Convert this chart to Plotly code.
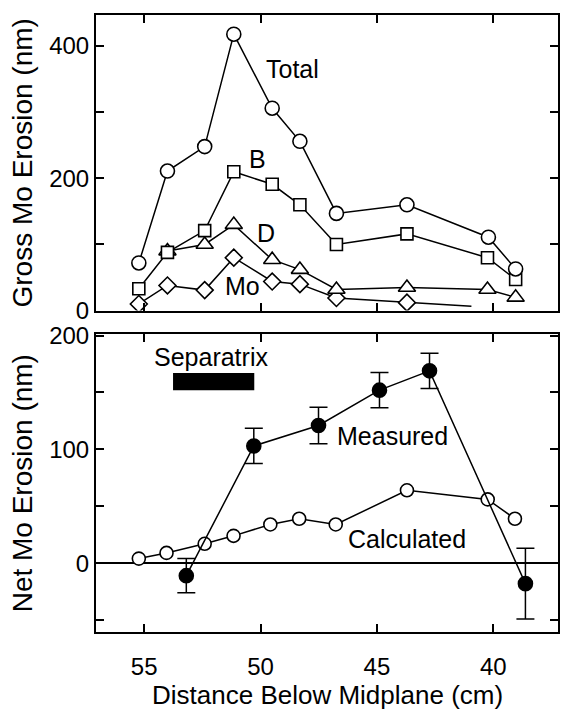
import plotly.graph_objects as go
from plotly.subplots import make_subplots

# ---------------- data ----------------
# Top panel: gross Mo erosion (nm) vs distance below midplane (cm)
total_x = [55.23, 54.0, 52.4, 51.15, 49.5, 48.31, 46.74, 43.71, 40.21, 39.04]
total_y = [72, 211, 248, 418, 306, 256, 147, 160, 111, 63]

b_x = [55.23, 54.0, 52.4, 51.15, 49.5, 48.31, 46.74, 43.71, 40.25, 39.04]
b_y = [33, 88, 121, 210, 191, 160, 100, 116, 80, 47]

d_x = [54.0, 52.4, 51.15, 49.5, 48.31, 46.74, 43.71, 40.25, 39.04]
d_y = [90, 100, 130, 77, 62, 32, 35, 32, 20]

mo_x = [55.23, 54.0, 52.4, 51.15, 49.5, 48.31, 46.74, 43.71, 40.94]
mo_y = [10, 38, 31, 80, 44, 40, 19, 12, 6.5]
mo_marker_shown = [1, 1, 1, 1, 1, 1, 1, 1, 0]

# Bottom panel: net Mo erosion (nm)
meas_x = [53.19, 50.29, 47.51, 44.89, 42.74, 38.62]
meas_y = [-11, 103, 121, 152, 169, -18]
meas_err = [15, 15.5, 16, 15.5, 15.5, 31]

calc_x = [55.23, 54.04, 52.40, 51.16, 49.58, 48.34, 46.77, 43.71, 40.24, 39.07]
calc_y = [4, 9, 17, 24, 34, 39, 34, 64, 56, 39]

separatrix_x = [53.76, 50.27]
separatrix_y = [152, 167]

x_tickvals = [55, 50, 45, 40]
x_ticktext = ["55", "50", "45", "40"]
top_tickvals = [0, 100, 200, 300, 400]
top_ticktext = ["0", "", "200", "", "400"]
bot_tickvals = [-50, 0, 50, 100, 150, 200]
bot_ticktext = ["", "0", "", "100", "", "200"]

# ---------------- figure ----------------
FONT = "Liberation Sans, Arial, Helvetica, sans-serif"
W, H = 563, 711
ML, MR, MT, MB = 96, 3, 10, 79
plot_h = H - MT - MB
top_h = 298
bot_h = 300

fig = make_subplots(rows=2, cols=1, shared_xaxes=False)

line = dict(color="black", width=1.5)

def mk(symbol, size, filled=False):
    return dict(symbol=symbol, size=size, opacity=1,
                color="black" if filled else "white",
                line=dict(color="black", width=1.6))

fig.add_trace(go.Scatter(x=mo_x, y=mo_y, mode="lines+markers", line=line,
                         marker=dict(symbol="diamond", size=[13 * s for s in mo_marker_shown],
                                     opacity=1, sizemode="diameter",
                                     color="white", line=dict(color="black", width=1.6))),
              row=1, col=1)
fig.add_trace(go.Scatter(x=d_x, y=d_y, mode="lines+markers", line=line,
                         marker=mk("triangle-up", 15)), row=1, col=1)
fig.add_trace(go.Scatter(x=b_x, y=b_y, mode="lines+markers", line=line,
                         marker=mk("square", 12)), row=1, col=1)
fig.add_trace(go.Scatter(x=total_x, y=total_y, mode="lines+markers", line=line,
                         marker=mk("circle", 14)), row=1, col=1)

fig.add_trace(go.Scatter(x=calc_x, y=calc_y, mode="lines+markers", line=line,
                         marker=mk("circle", 13)), row=2, col=1)
fig.add_trace(go.Scatter(x=meas_x, y=meas_y, mode="lines+markers", line=line,
                         marker=mk("circle", 14, filled=True),
                         error_y=dict(type="data", array=meas_err, visible=True,
                                      color="black", thickness=1.5, width=9)),
              row=2, col=1)

fig.add_shape(type="rect", xref="x2", yref="y2",
              x0=separatrix_x[0], x1=separatrix_x[1],
              y0=separatrix_y[0], y1=separatrix_y[1],
              fillcolor="black", line=dict(width=0))

ann_font = dict(family=FONT, size=25, color="black")
anns = [
    ("x", "y", 48.64, 365, "Total"),
    ("x", "y", 50.12, 230, "B"),
    ("x", "y", 49.76, 117, "D"),
    ("x", "y", 50.77, 37, "Mo"),
    ("x2", "y2", 52.15, 181, "Separatrix"),
    ("x2", "y2", 44.35, 112, "Measured"),
    ("x2", "y2", 43.71, 21, "Calculated"),
]
for xr, yr, ax_, ay_, txt in anns:
    fig.add_annotation(xref=xr, yref=yr, x=ax_, y=ay_, text=txt, showarrow=False,
                       font=ann_font, xanchor="center", yanchor="middle")

# x-axis title as a paper-anchored annotation below the tick labels
fig.add_annotation(xref="paper", yref="paper", x=0.5, y=-64 / plot_h,
                   text="Distance Below Midplane (cm)", showarrow=False,
                   font=dict(family=FONT, size=26, color="black"),
                   xanchor="center", yanchor="middle")

axis_common = dict(showline=True, linecolor="black", linewidth=2, mirror="ticks",
                   ticks="inside", ticklen=8, tickwidth=1.5, tickcolor="black",
                   showgrid=False, zeroline=False,
                   tickfont=dict(family=FONT, size=24, color="black"))

xrange = [57.07, 37.22]
fig.update_xaxes(range=xrange, tickvals=x_tickvals, ticktext=x_ticktext, **axis_common)
fig.update_xaxes(showticklabels=False, row=1, col=1)
fig.update_xaxes(ticklabelstandoff=12, row=2, col=1)

fig.update_yaxes(**axis_common)
fig.update_yaxes(range=[0, 447], tickvals=top_tickvals, ticktext=top_ticktext,
                 domain=[(plot_h - top_h) / plot_h, 1.0],
                 title=dict(text="Gross Mo Erosion (nm)",
                            font=dict(family=FONT, size=28, color="black"), standoff=8),
                 row=1, col=1)
fig.update_yaxes(range=[-60.5, 201], tickvals=bot_tickvals, ticktext=bot_ticktext,
                 domain=[0, bot_h / plot_h],
                 zeroline=True, zerolinecolor="black", zerolinewidth=1.5,
                 title=dict(text="Net Mo Erosion (nm)",
                            font=dict(family=FONT, size=28, color="black"), standoff=8),
                 row=2, col=1)

fig.update_layout(width=W, height=H, margin=dict(l=ML, r=MR, t=MT, b=MB),
                  paper_bgcolor="white", plot_bgcolor="white", showlegend=False,
                  font=dict(family=FONT, color="black"))

fig.write_html("out.html")
